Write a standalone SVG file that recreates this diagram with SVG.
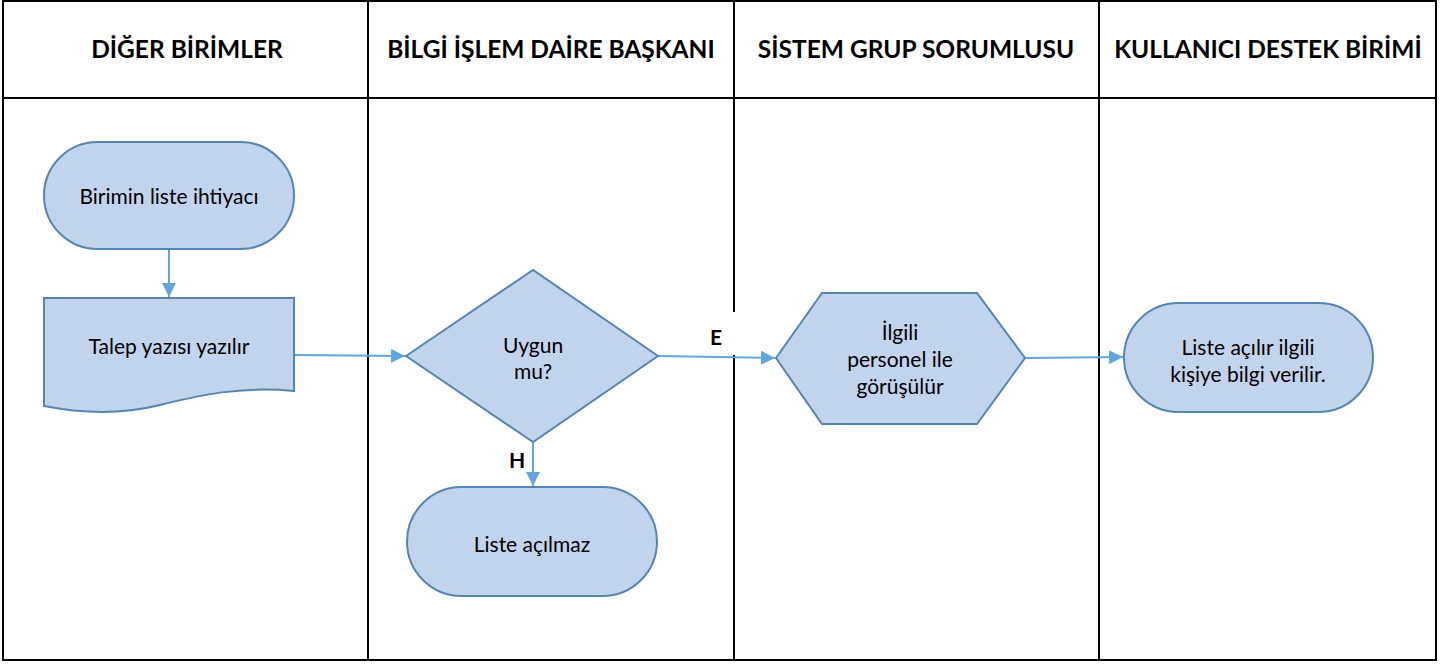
<svg xmlns="http://www.w3.org/2000/svg" width="1456" height="666" viewBox="0 0 1456 666">
<defs>
<marker id="ah" viewBox="0 0 10 10" refX="10" refY="5" markerWidth="7" markerHeight="7" markerUnits="strokeWidth" orient="auto">
<path d="M0,0 L10,5 L0,10 Z" fill="#62A5DC"/>
</marker>
<style>
.grid{stroke:#000;stroke-width:2;fill:none}
.hdr{font-family:Lato,"Open Sans",sans-serif;font-weight:bold;font-size:24.5px;fill:#000;text-anchor:middle}
.shape{fill:#C2D4EC;stroke:#5585B1;stroke-width:2}
.lbl{font-family:Lato,"Open Sans",sans-serif;font-size:21px;fill:#000;text-anchor:middle}
.cl{font-family:Lato,"Open Sans",sans-serif;font-weight:bold;font-size:21px;fill:#000;text-anchor:middle}
.conn{stroke:#62A5DC;stroke-width:2;fill:none;marker-end:url(#ah)}
</style>
</defs>
<rect width="1456" height="666" fill="#fff"/>
<g id="lanes">
<rect class="grid" x="3" y="1" width="1433" height="659"/>
<line class="grid" x1="3" y1="98" x2="1436" y2="98"/>
<line class="grid" x1="368" y1="1" x2="368" y2="660"/>
<line class="grid" x1="734" y1="1" x2="734" y2="312"/>
<line class="grid" x1="734" y1="355" x2="734" y2="660"/>
<line class="grid" x1="1099" y1="1" x2="1099" y2="660"/>
<text class="hdr" x="187" y="58">DİĞER BİRİMLER</text>
<text class="hdr" x="551" y="58">BİLGİ İŞLEM DAİRE BAŞKANI</text>
<text class="hdr" x="916" y="58">SİSTEM GRUP SORUMLUSU</text>
<text class="hdr" x="1268" y="58">KULLANICI DESTEK BİRİMİ</text>
</g>
<g id="connectors">
<line class="conn" x1="169" y1="249" x2="169" y2="297"/>
<line class="conn" x1="294" y1="355" x2="405" y2="356"/>
<line class="conn" x1="658" y1="356" x2="775" y2="358"/>
<line class="conn" x1="533" y1="443" x2="533" y2="486"/>
<line class="conn" x1="1025" y1="358" x2="1123" y2="357"/>
<text class="cl" x="716" y="345">E</text>
<text class="cl" x="517" y="468">H</text>
</g>
<g id="n1">
<rect class="shape" x="44" y="142" width="250" height="107" rx="53.5" ry="53.5"/>
<text class="lbl" x="169" y="204">Birimin liste ihtiyacı</text>
</g>
<g id="n2">
<path class="shape" d="M44,298 H294 V391 C240,386 200,395 160,405 C120,415 80,413 44,406 Z"/>
<text class="lbl" x="169" y="354">Talep yazısı yazılır</text>
</g>
<g id="n3">
<polygon class="shape" points="406,356 533,270 658,356 533,442"/>
<text class="lbl" x="533" y="353">Uygun</text>
<text class="lbl" x="533" y="379">mu?</text>
</g>
<g id="n4">
<rect class="shape" x="407" y="487" width="250" height="109" rx="54.5" ry="54.5"/>
<text class="lbl" x="532" y="552">Liste açılmaz</text>
</g>
<g id="n5">
<polygon class="shape" points="776,358 822,293 977,293 1025,358 977,424 822,424"/>
<text class="lbl" x="900" y="340">İlgili</text>
<text class="lbl" x="900" y="367">personel ile</text>
<text class="lbl" x="900" y="394">görüşülür</text>
</g>
<g id="n6">
<rect class="shape" x="1124" y="303" width="249" height="109" rx="54.5" ry="54.5"/>
<text class="lbl" x="1248" y="355">Liste açılır ilgili</text>
<text class="lbl" x="1248" y="382">kişiye bilgi verilir.</text>
</g>
</svg>
